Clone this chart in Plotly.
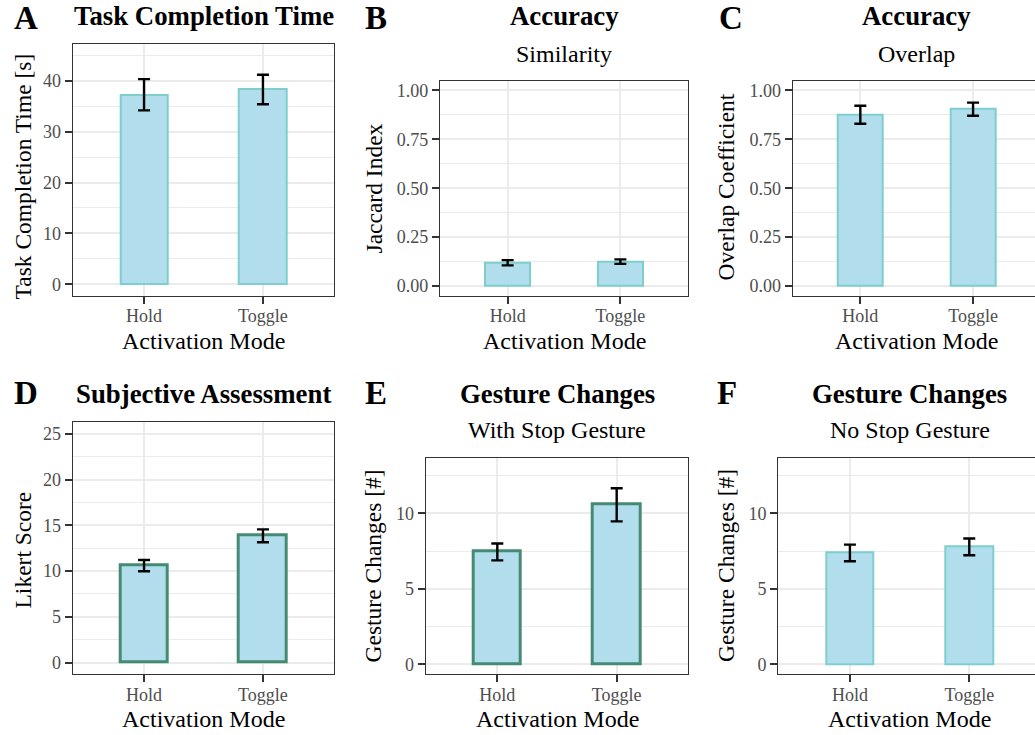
import plotly.graph_objects as go

# ---------------- data ----------------
modes = ["Hold", "Toggle"]

tct_mean = [37.3, 38.4]
tct_lo = [34.2, 35.4]
tct_hi = [40.35, 41.2]

jac_mean = [0.118, 0.124]
jac_lo = [0.105, 0.113]
jac_hi = [0.132, 0.136]

ovl_mean = [0.878, 0.906]
ovl_lo = [0.83, 0.871]
ovl_hi = [0.922, 0.938]

lik_mean = [10.6, 13.9]
lik_lo = [9.98, 13.15]
lik_hi = [11.2, 14.55]

gws_mean = [7.47, 10.6]
gws_lo = [6.88, 9.47]
gws_hi = [8.0, 11.66]

gns_mean = [7.42, 7.8]
gns_lo = [6.82, 7.22]
gns_hi = [7.93, 8.33]

# ---------------- styling ----------------
W, H = 1035, 735
FONT = "Liberation Serif, Times New Roman, serif"
FILL = "#b1ddec"
TEAL = "#7dcfcf"
GREEN = "#458b74"
GRID = "#ebebeb"
BORDER = "#333333"
TICKC = "#4d4d4d"

panels = [
    dict(mean=tct_mean, lo=tct_lo, hi=tct_hi, rect=(72.7, 44, 334.3, 295.7),
         yr=[-2.25, 47.25], dtick=10, minor=5, fmt="", title="Task Completion Time",
         sub=None, tag="A", tagx=11.7, ytitle="Task Completion Time [s]", ytx=22.5, yty=177,
         line=TEAL, lw=2, row=0),
    dict(mean=jac_mean, lo=jac_lo, hi=jac_hi, rect=(440, 80.7, 688, 295.7),
         yr=[-0.05, 1.05], dtick=0.25, minor=0.125, fmt=".2f", title="Accuracy",
         sub="Similarity", tag="B", tagx=363.3, ytitle="Jaccard Index", ytx=373.5, yty=189,
         line=TEAL, lw=2, row=0),
    dict(mean=ovl_mean, lo=ovl_lo, hi=ovl_hi, rect=(792.7, 80.7, 1040.7, 295.7),
         yr=[-0.05, 1.05], dtick=0.25, minor=0.125, fmt=".2f", title="Accuracy",
         sub="Overlap", tag="C", tagx=716.7, ytitle="Overlap Coefficient", ytx=726, yty=187.5,
         line=TEAL, lw=2, row=0),
    dict(mean=lik_mean, lo=lik_lo, hi=lik_hi, rect=(72.7, 422.3, 334.3, 674),
         yr=[-1.25, 26.25], dtick=5, minor=2.5, fmt="", title="Subjective Assessment",
         sub=None, tag="D", tagx=11.7, ytitle="Likert Score", ytx=22.5, yty=550,
         line=GREEN, lw=3, row=1),
    dict(mean=gws_mean, lo=gws_lo, hi=gws_hi, rect=(425.7, 458.3, 688.3, 674),
         yr=[-0.65, 13.65], dtick=5, minor=2.5, fmt="", title="Gesture Changes",
         sub="With Stop Gesture", tag="E", tagx=363, ytitle="Gesture Changes [#]", ytx=372.5, yty=566,
         line=GREEN, lw=3, row=1),
    dict(mean=gns_mean, lo=gns_lo, hi=gns_hi, rect=(778.3, 458.3, 1040.9, 674),
         yr=[-0.65, 13.65], dtick=5, minor=2.5, fmt="", title="Gesture Changes",
         sub="No Stop Gesture", tag="F", tagx=715, ytitle="Gesture Changes [#]", ytx=726, yty=566,
         line=TEAL, lw=2, row=1),
]

fig = go.Figure()
annotations = []
layout = {}

TITLE_Y = [15.7, 393.7]
SUB_Y = [53.7, 430]
TAG_Y = [17.5, 393.3]
XT_Y = [340.7, 719.2]


def px(x):
    return x / W


def py(y):
    return 1 - y / H


for i, p in enumerate(panels, start=1):
    x0, y0, x1, y1 = p["rect"]
    vis_x1 = min(x1, W)
    xr_end = -0.6 + 2.2 * (vis_x1 - x0) / (x1 - x0)
    clipped = x1 > W
    ax = "" if i == 1 else str(i)

    fig.add_trace(go.Bar(
        x=modes, y=p["mean"], width=0.4,
        marker=dict(color=FILL, line=dict(color=p["line"], width=p["lw"])),
        error_y=dict(type="data", symmetric=False,
                     array=[h - m for h, m in zip(p["hi"], p["mean"])],
                     arrayminus=[m - l for m, l in zip(p["mean"], p["lo"])],
                     color="black", thickness=2.4, width=6),
        xaxis="x" + ax, yaxis="y" + ax, showlegend=False, hoverinfo="skip",
    ))

    layout["xaxis" + ax] = dict(
        domain=[px(x0), px(vis_x1)], anchor="y" + ax, type="category",
        range=[-0.6, xr_end], showgrid=True, gridcolor=GRID, gridwidth=2,
        showline=True, linecolor=BORDER, linewidth=1.3, mirror=True,
        ticks="outside", ticklen=7, tickwidth=1.6, tickcolor=BORDER,
        tickfont=dict(family=FONT, size=18, color=TICKC), zeroline=False,
        ticklabelstandoff=-3, fixedrange=True,
    )
    layout["yaxis" + ax] = dict(
        domain=[py(y1), py(y0)], anchor="x" + ax, range=p["yr"],
        dtick=p["dtick"], tick0=0, tickformat=p["fmt"],
        showgrid=True, gridcolor=GRID, gridwidth=2,
        minor=dict(dtick=p["minor"], tick0=0, showgrid=True, gridcolor=GRID, gridwidth=1, ticks=""),
        showline=True, linecolor=BORDER, linewidth=1.3, mirror=not clipped,
        ticks="outside", ticklen=7, tickwidth=1.6, tickcolor=BORDER,
        tickfont=dict(family=FONT, size=18, color=TICKC), zeroline=False,
        fixedrange=True,
    )

    cx = (x0 + x1) / 2
    r = p["row"]
    annotations.append(dict(text="<b>%s</b>" % p["title"], x=px(cx), y=py(TITLE_Y[r]),
                            xref="paper", yref="paper", xanchor="center", yanchor="middle",
                            showarrow=False, font=dict(family=FONT, size=26.8, color="black")))
    if p["sub"]:
        annotations.append(dict(text=p["sub"], x=px(cx), y=py(SUB_Y[r]),
                                xref="paper", yref="paper", xanchor="center", yanchor="middle",
                                showarrow=False, font=dict(family=FONT, size=24, color="black")))
    annotations.append(dict(text="<b>%s</b>" % p["tag"], x=px(p["tagx"]), y=py(TAG_Y[r]),
                            xref="paper", yref="paper", xanchor="left", yanchor="middle",
                            showarrow=False, font=dict(family=FONT, size=33, color="black")))
    annotations.append(dict(text="Activation Mode", x=px(cx), y=py(XT_Y[r]),
                            xref="paper", yref="paper", xanchor="center", yanchor="middle",
                            showarrow=False, font=dict(family=FONT, size=24, color="black")))
    annotations.append(dict(text=p["ytitle"], x=px(p["ytx"]), y=py(p["yty"]),
                            xref="paper", yref="paper", xanchor="center", yanchor="middle",
                            textangle=-90, showarrow=False,
                            font=dict(family=FONT, size=23.5, color="black")))

fig.update_layout(
    width=W, height=H, margin=dict(l=0, r=0, t=0, b=0, pad=0),
    paper_bgcolor="white", plot_bgcolor="white",
    font=dict(family=FONT, color="black"),
    annotations=annotations, bargap=0,
    **layout,
)

fig.write_html("out.html", config={"displayModeBar": False},
               post_script="document.body.style.margin='0';")
